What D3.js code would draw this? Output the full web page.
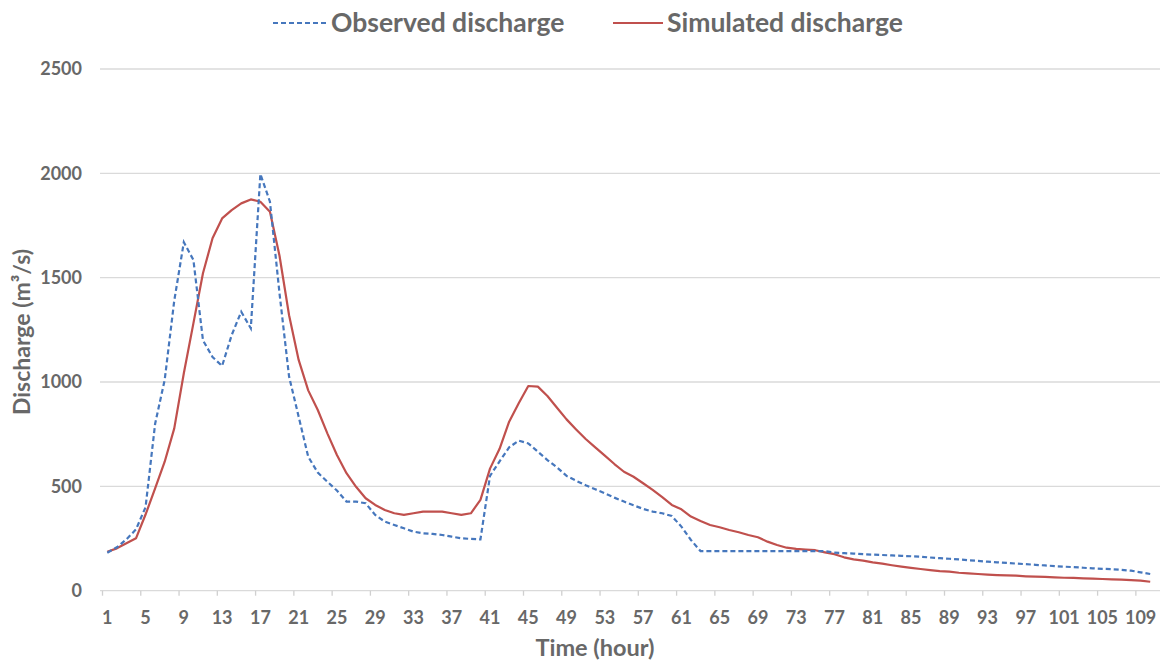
<!DOCTYPE html>
<html>
<head>
<meta charset="utf-8">
<script src="https://cdn.jsdelivr.net/npm/d3@7"></script>
<style>
  body { margin: 0; background: #fff; }
  text { font-family: Lato, "Open Sans", sans-serif; font-weight: bold; fill: #686868; }
</style>
</head>
<body>
<div id="chart"></div>
<script>
// hours on the category axis
var hours = [];
for (var i = 1; i <= 110; i++) hours.push(i);

var tickHours = [1, 5, 9, 13, 17, 21, 25, 29, 33, 37, 41, 45, 49, 53, 57, 61, 65, 69, 73, 77, 81, 85, 89, 93, 97, 101, 105, 109];
var yTicks = [0, 500, 1000, 1500, 2000, 2500];

// observed discharge (m3/s), hours 1..110
var observed = [
  182, 208, 246, 294, 400, 800, 1010, 1390, 1670, 1585,
  1200, 1120, 1077, 1225, 1337, 1257, 1997, 1864, 1425, 1026,
  834, 642, 566, 522, 480, 427, 427, 419, 363, 331,
  315, 299, 283, 275, 272, 267, 259, 251, 248, 246,
  550, 620, 687, 719, 706, 666, 626, 591, 550, 527,
  505, 486, 467, 446, 427, 409, 392, 379, 371, 358,
  307, 243, 190, 190, 190, 190, 190, 190, 190, 190,
  190, 190, 190, 190, 190, 190, 182, 180, 178, 175,
  173, 171, 169, 167, 165, 163, 159, 156, 153, 150,
  146, 143, 139, 136, 133, 130, 127, 124, 121, 118,
  115, 113, 110, 107, 105, 103, 100, 96, 88, 80
];

// simulated discharge (m3/s), hours 1..110
var simulated = [
  187, 203, 227, 251, 365, 490, 618, 778, 1042, 1281,
  1521, 1689, 1784, 1824, 1856, 1875, 1864, 1816, 1605, 1320,
  1106, 960, 866, 754, 650, 563, 498, 443, 411, 387,
  371, 363, 371, 379, 379, 379, 371, 363, 371, 435,
  585, 680, 810, 898, 981, 978, 933, 877, 821, 773,
  727, 687, 647, 607, 570, 546, 515, 483, 448, 411,
  390, 355, 334, 315, 304, 291, 280, 267, 256, 235,
  219, 206, 200, 197, 194, 184, 175, 160, 150, 144,
  136, 130, 122, 115, 109, 104, 99, 94, 91, 86,
  83, 80, 77, 75, 73, 72, 69, 67, 66, 64,
  62, 61, 59, 58, 56, 54, 53, 51, 48, 43
];

var svgWidth = 1163;
var svgHeight = 661;

var plot = { left: 102.5, right: 1155, top: 69, bottom: 590.7 };

var svg = d3.select("#chart")
    .append("svg")
    .attr("width", svgWidth)
    .attr("height", svgHeight);

var xScale = d3.scaleBand()
    .domain(hours)
    .range([plot.left, plot.right]);

var yScale = d3.scaleLinear()
    .domain([0, 2500])
    .range([plot.bottom, plot.top]);

var half = xScale.bandwidth() / 2;

// gridlines
svg.append("g")
    .selectAll("line")
    .data(yTicks)
    .enter()
    .append("line")
    .attr("x1", 100)
    .attr("x2", 1160)
    .attr("y1", d => yScale(d))
    .attr("y2", d => yScale(d))
    .attr("stroke", "#dadada")
    .attr("stroke-width", 1.3);

// y tick labels
var leftAxis = d3.axisLeft(yScale)
    .tickValues(yTicks)
    .tickFormat(d3.format("d"))
    .tickSize(0)
    .tickPadding(18);
var yAxisG = svg.append("g")
    .attr("transform", "translate(100,0)")
    .call(leftAxis);
yAxisG.select(".domain").remove();
yAxisG.selectAll("text")
    .attr("font-size", 18)
    .attr("fill", "#686868")
    .style("font-family", "Lato, sans-serif");

// x tick marks sit on the category boundaries
svg.append("g")
    .selectAll("line")
    .data(tickHours)
    .enter()
    .append("line")
    .attr("x1", d => xScale(d))
    .attr("x2", d => xScale(d))
    .attr("y1", plot.bottom)
    .attr("y2", plot.bottom + 5)
    .attr("stroke", "#d0d0d0")
    .attr("stroke-width", 1.3);

var bottomAxis = d3.axisBottom(xScale).tickValues(tickHours).tickSize(0).tickPadding(21);
var xAxisG = svg.append("g")
    .attr("transform", `translate(0, ${plot.bottom})`)
    .call(bottomAxis);
xAxisG.select(".domain").remove();
xAxisG.selectAll("text")
    .attr("font-size", 18)
    .attr("fill", "#686868")
    .style("font-family", "Lato, sans-serif");

// lines
var line = d3.line()
    .x((d, i) => xScale(hours[i]) + half)
    .y(d => yScale(d));

svg.append("path")
    .datum(simulated)
    .attr("fill", "none")
    .attr("stroke", "#c0504d")
    .attr("stroke-width", 2.2)
    .attr("stroke-linejoin", "round")
    .attr("d", line);

svg.append("path")
    .datum(observed)
    .attr("fill", "none")
    .attr("stroke", "#4677bd")
    .attr("stroke-width", 2.2)
    .attr("stroke-dasharray", "5,3")
    .attr("d", line);

// legend
svg.append("line")
    .attr("x1", 273).attr("x2", 328)
    .attr("y1", 23).attr("y2", 23)
    .attr("stroke", "#4677bd")
    .attr("stroke-width", 2.2)
    .attr("stroke-dasharray", "5,3");
svg.append("text")
    .attr("x", 331).attr("y", 31.5)
    .attr("font-size", 26.5)
    .text("Observed discharge");

svg.append("line")
    .attr("x1", 613).attr("x2", 663)
    .attr("y1", 23).attr("y2", 23)
    .attr("stroke", "#c0504d")
    .attr("stroke-width", 2.2);
svg.append("text")
    .attr("x", 667).attr("y", 31.5)
    .attr("font-size", 26.5)
    .text("Simulated discharge");

// axis titles
svg.append("text")
    .attr("transform", "rotate(-90)")
    .attr("x", -332)
    .attr("y", 30)
    .attr("text-anchor", "middle")
    .attr("font-size", 23)
    .text("Discharge (m³/s)");

svg.append("text")
    .attr("x", 595)
    .attr("y", 656)
    .attr("text-anchor", "middle")
    .attr("font-size", 23.5)
    .text("Time (hour)");
</script>
</body>
</html>
